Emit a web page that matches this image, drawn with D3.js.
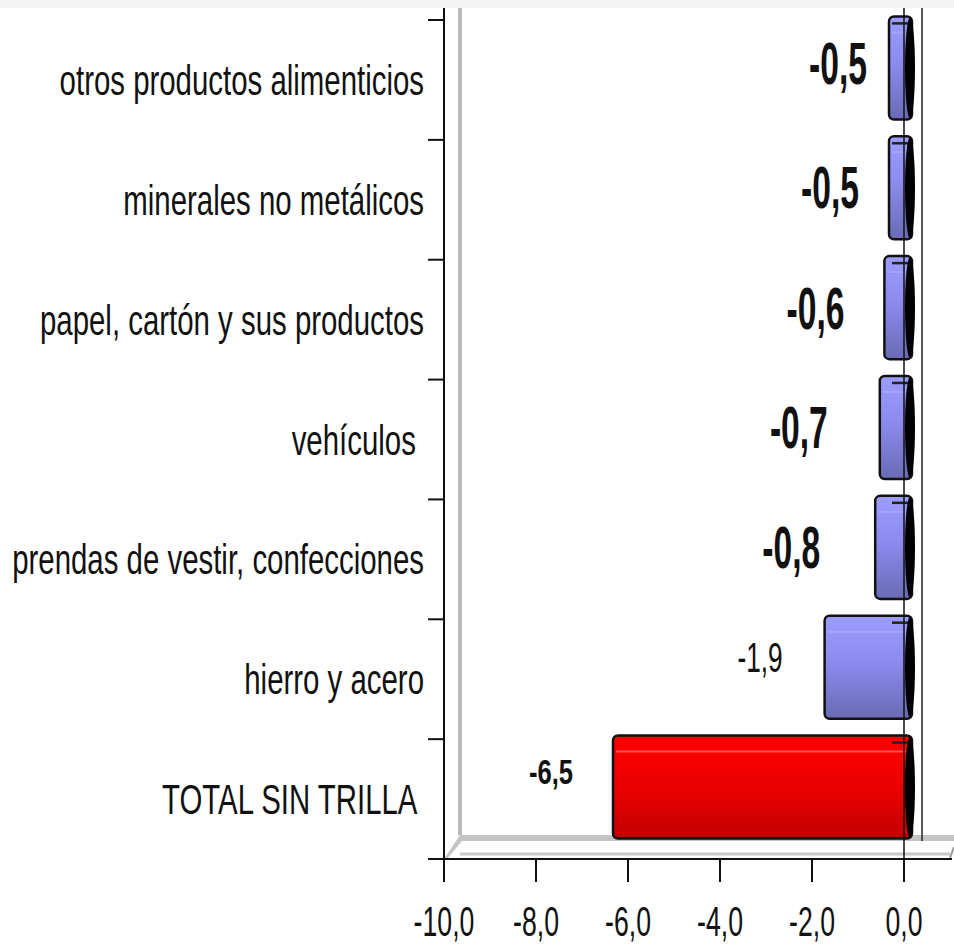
<!DOCTYPE html>
<html>
<head>
<meta charset="utf-8">
<script src="https://cdn.jsdelivr.net/npm/d3@7"></script>
<style>
  body { margin: 0; background: #fff; }
  svg { display: block; }
  text { font-family: "Liberation Sans", Arial, sans-serif; fill: #111; white-space: pre; }
</style>
</head>
<body>
<div id="chart"></div>
<script>
// data
const categories = [
  "otros productos alimenticios",
  "minerales no metálicos",
  "papel, cartón y sus productos",
  "vehículos ",
  "prendas de vestir, confecciones",
  "hierro y acero",
  "TOTAL SIN TRILLA "
]
const values = [-0.5, -0.5, -0.6, -0.7, -0.8, -1.9, -6.5]
const totalCategory = "TOTAL SIN TRILLA "
const xTicks = [-10, -8, -6, -4, -2, 0]

// label styling (size, weight, horizontal squeeze, gap to bar, baseline shift)
const labelStyle = [
  {size: 60, weight: "bold", sx: 0.56, gap: 22, dy: 4},
  {size: 60, weight: "bold", sx: 0.56, gap: 30, dy: 8},
  {size: 60, weight: "bold", sx: 0.56, gap: 40, dy: 9},
  {size: 60, weight: "bold", sx: 0.56, gap: 52, dy: 8},
  {size: 60, weight: "bold", sx: 0.56, gap: 55, dy: 9},
  {size: 43, weight: "normal", sx: 0.61, gap: 42, dy: -7},
  {size: 36, weight: "bold", sx: 0.71, gap: 40, dy: -15}
]

const width = 954
const height = 945
const depth = {dx: 16, dy: -24}
const half = {dx: depth.dx / 2, dy: depth.dy / 2}

const fmt = d3.formatLocale({decimal: ",", thousands: ".", grouping: [3], currency: ["", ""], minus: "-"}).format(".1f")

const x = d3.scaleLinear().domain([-10, 0]).range([444, 904])
const y = d3.scaleBand().domain(categories).range([20, 859])
const floorY = y.range()[1]

const svg = d3.select("#chart").append("svg")
  .attr("width", width)
  .attr("height", height)

const defs = svg.append("defs")
function grad(id, stops) {
  const g = defs.append("linearGradient").attr("id", id)
    .attr("x1", 0).attr("y1", 0).attr("x2", 0).attr("y2", 1)
  stops.forEach(s => g.append("stop").attr("offset", s[0]).attr("stop-color", s[1]))
}
grad("blueGrad", [[0, "#9d9dff"], [0.45, "#8b8bee"], [1, "#6a6ab6"]])
grad("redGrad", [[0, "#ff0000"], [0.5, "#ec0000"], [1, "#c20000"]])

// top strip
svg.append("rect").attr("x", 0).attr("y", 0).attr("width", width).attr("height", 8).attr("fill", "#f4f4f4")

// back wall + floor
const backX = x(-10) + depth.dx
const backY = floorY + depth.dy
svg.append("line")
  .attr("x1", backX).attr("x2", backX).attr("y1", 8).attr("y2", backY)
  .attr("stroke", "#bbb").attr("stroke-width", 4)
svg.append("path")
  .attr("d", `M${x(-10)},${floorY} L${backX},${backY} L${width},${backY} L${width},${backY + 6} L${backX + 2},${backY + 6} L${x(-10) + 3},${floorY}Z`)
  .attr("fill", "#c4c4c4")
svg.append("line")
  .attr("x1", backX).attr("x2", 950).attr("y1", floorY - 5).attr("y2", floorY - 5)
  .attr("stroke", "#c8c8c8").attr("stroke-width", 3)
svg.append("line")
  .attr("x1", 950).attr("x2", width).attr("y1", floorY - 1).attr("y2", floorY - 12)
  .attr("stroke", "#999").attr("stroke-width", 2)

// back zero line
svg.append("line")
  .attr("x1", x(0) + depth.dx + 2).attr("x2", x(0) + depth.dx + 2)
  .attr("y1", 8).attr("y2", backY + 6)
  .attr("stroke", "#222").attr("stroke-width", 1.5)

// bars
const barH = y.bandwidth() * 0.86
const bars = svg.append("g").selectAll("g")
  .data(categories.map((c, i) => ({cat: c, value: values[i], i: i})))
  .join("g")

bars.each(function(d) {
  const g = d3.select(this)
  const cy = y(d.cat) + y.bandwidth() / 2 + half.dy
  const top = cy - barH / 2
  const x0 = x(d.value) + half.dx
  const x1 = x(0) + half.dx
  const isTotal = d.cat === totalCategory
  g.append("rect")
    .attr("x", x0).attr("y", top)
    .attr("width", x1 - x0).attr("height", barH)
    .attr("rx", 5)
    .attr("fill", isTotal ? "url(#redGrad)" : "url(#blueGrad)")
    .attr("stroke", "#111").attr("stroke-width", 2.5)
  g.append("line")
    .attr("x1", x0 + 3).attr("x2", x1 - 6)
    .attr("y1", top + 16).attr("y2", top + 16)
    .attr("stroke", isTotal ? "#ff6a6a" : "#a9a9ff").attr("stroke-width", 2).attr("opacity", 0.8)
  g.append("line")
    .attr("x1", x1 - 20).attr("x2", x1 - 4)
    .attr("y1", top + 7).attr("y2", top + 7)
    .attr("stroke", "#222").attr("stroke-width", 2.5)
  g.append("ellipse")
    .attr("cx", x1 - 2).attr("cy", cy)
    .attr("rx", 5).attr("ry", barH / 2 - 1)
    .attr("fill", "#000")

  const st = labelStyle[d.i]
  g.append("text")
    .attr("transform", `translate(${x0 - st.gap},${y(d.cat) + y.bandwidth() / 2 + st.dy}) scale(${st.sx},1)`)
    .attr("text-anchor", "end")
    .attr("font-size", st.size)
    .attr("font-weight", st.weight)
    .attr("fill", "#000")
    .text(fmt(d.value))
})

// front zero line
svg.append("line")
  .attr("x1", x(0)).attr("x2", x(0)).attr("y1", 8).attr("y2", floorY + 23)
  .attr("stroke", "#111").attr("stroke-width", 1.5)

// axes
svg.append("line")
  .attr("x1", x(-10)).attr("x2", x(-10)).attr("y1", 8).attr("y2", floorY + 23)
  .attr("stroke", "#111").attr("stroke-width", 2)
svg.append("line")
  .attr("x1", 428).attr("x2", 952).attr("y1", floorY).attr("y2", floorY)
  .attr("stroke", "#111").attr("stroke-width", 2)

svg.append("g").selectAll("line")
  .data(categories)
  .join("line")
  .attr("x1", 428).attr("x2", x(-10))
  .attr("y1", d => y(d)).attr("y2", d => y(d))
  .attr("stroke", "#111").attr("stroke-width", 2)

svg.append("g").selectAll("line")
  .data(xTicks)
  .join("line")
  .attr("x1", d => x(d)).attr("x2", d => x(d))
  .attr("y1", floorY).attr("y2", floorY + 23)
  .attr("stroke", "#111").attr("stroke-width", 2)

svg.append("g").selectAll("text")
  .data(xTicks)
  .join("text")
  .attr("transform", d => `translate(${x(d)},936) scale(0.62,1)`)
  .attr("text-anchor", "middle")
  .attr("font-size", 43)
  .text(d => fmt(d))

// category labels
svg.append("g").selectAll("text")
  .data(categories)
  .join("text")
  .attr("transform", d => `translate(424,${y(d) + y.bandwidth() / 2 + 15}) scale(0.7,1)`)
  .attr("text-anchor", "end")
  .attr("font-size", 42)
  .text(d => d)
</script>
</body>
</html>
